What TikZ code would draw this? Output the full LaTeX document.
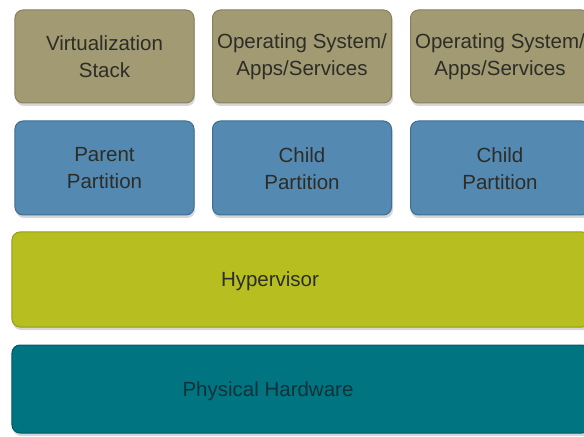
\documentclass[tikz,border=0pt]{standalone}
\usepackage{fontspec}
\setmainfont{Liberation Sans}
\definecolor{tan}{RGB}{162,154,114}
\definecolor{tanedge}{RGB}{135,128,92}
\definecolor{pblue}{RGB}{84,137,178}
\definecolor{pblueedge}{RGB}{62,110,148}
\definecolor{hyp}{RGB}{182,190,32}
\definecolor{hypedge}{RGB}{150,158,20}
\definecolor{hw}{RGB}{0,116,128}
\definecolor{hwedge}{RGB}{0,90,100}
\definecolor{txt}{RGB}{45,45,40}
\definecolor{hwtxt}{RGB}{18,50,58}
\tikzset{
  layer/.style={rounded corners=8bp, line width=1bp, inner sep=0pt},
  tanbox/.style={layer, fill=tan, draw=tanedge, minimum width=179bp, minimum height=93bp},
  bluebox/.style={layer, fill=pblue, draw=pblueedge, minimum width=179bp, minimum height=94bp},
  shadowbox/.style={fill=black!35, rounded corners=8bp, opacity=0.45},
  lbl/.style={font=\fontsize{20.5bp}{27bp}\selectfont, align=center, inner sep=0pt}
}
\begin{document}
\begin{tikzpicture}[x=1bp,y=-1bp]
\useasboundingbox (0,0) rectangle (584,437);
\fill[white] (0,0) rectangle (584,437);
\clip (0,0) rectangle (584,437);
% shadows
\foreach \xa/\xb in {15/194,212/392,410/590}{
  \fill[shadowbox] (\xa+1,13) rectangle (\xb+1,106);
  \fill[shadowbox] (\xa+1,124) rectangle (\xb+1,218);
}
\fill[shadowbox] (13,235) rectangle (592,330);
\fill[shadowbox] (13,348) rectangle (592,436);
% top row
\node[tanbox] (vs) at (104.5,56.5) {};
\node[tanbox] (os1) at (302,56.5) {};
\node[tanbox] (os2) at (500,56.5) {};
\node[lbl, text=txt] (vst) at (104.5,56.5) {Virtualization\\Stack};
\node[lbl, text=txt] (os1t) at (302,56.5) {Operating System/\\Apps/Services};
\node[lbl, text=txt] (os2t) at (500,56.5) {Operating System/\\Apps/Services};
% partition row
\node[bluebox] (pp) at (104.5,168) {};
\node[bluebox] (cp1) at (302,168) {};
\node[bluebox] (cp2) at (500,168) {};
\node[lbl, text=txt] (ppt) at (104.5,168.5) {Parent\\Partition};
\node[lbl, text=txt] (cp1t) at (302,168.5) {Child\\Partition};
\node[lbl, text=txt] (cp2t) at (500,168.5) {Child\\Partition};
% hypervisor
\node[layer, fill=hyp, draw=hypedge, minimum width=578bp, minimum height=95bp] (hv) at (301,279.5) {};
\node[lbl, text=txt] (hvt) at (270,281) {Hypervisor};
% hardware
\node[layer, fill=hw, draw=hwedge, minimum width=578bp, minimum height=88bp] (ph) at (301,389) {};
\node[lbl, text=hwtxt] (pht) at (268,391) {Physical Hardware};
\end{tikzpicture}
\end{document}
